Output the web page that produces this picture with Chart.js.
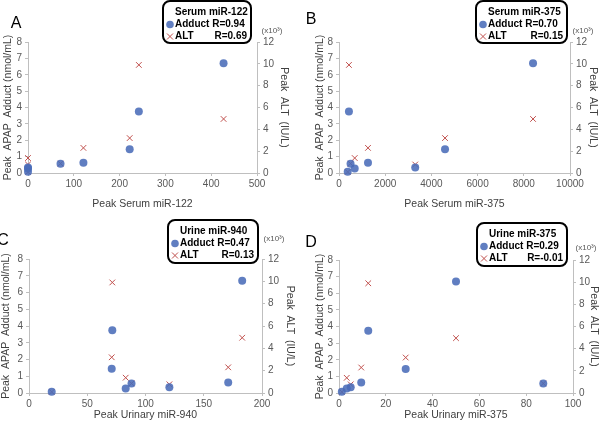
<!DOCTYPE html>
<html>
<head>
<meta charset="utf-8">
<script src="https://cdn.jsdelivr.net/npm/chart.js@4/dist/chart.umd.min.js"></script>
<style>
  html, body { margin: 0; padding: 0; background: #fff; }
  #wrap { position: relative; width: 600px; height: 421px; }
  .panel { position: absolute; width: 300px; }
</style>
</head>
<body>
<div id="wrap">
  <div class="panel" style="left:0;top:0;height:210px"><canvas id="chartA" width="300" height="210"></canvas></div>
  <div class="panel" style="left:300px;top:0;height:210px"><canvas id="chartB" width="300" height="210"></canvas></div>
  <div class="panel" style="left:0;top:210px;height:211px"><canvas id="chartC" width="300" height="211"></canvas></div>
  <div class="panel" style="left:300px;top:210px;height:211px"><canvas id="chartD" width="300" height="211"></canvas></div>
</div>
<script>
// Per patient values (same 8 patients in every panel)
const adduct = [6.7, 3.75, 1.45, 0.63, 0.27, 0.34, 0.57, 0.07];   // nmol/mL
const altK = [4.95, 9.9, 3.2, 2.3, 1.37, 0.78, 0.86, 0.1];       // IU/L x10^3

// miRNA levels, x axis of each panel
const serum122 = [427, 242, 222, 121, 0, 0, 71, 0];
const serum375 = [8400, 430, 4590, 1255, 680, 3300, 500, 376];
const urine940 = [183, 71.5, 71, 171, 83, 120.5, 88, 19.5];
const urine375 = [50, 12.5, 28.5, 9.5, 3.3, 5, 87.3, 1.2];

// Correlations shown in the legends
const rAdduct = ['0.94', '0.70', '0.47', '0.29'];
const rAlt = ['0.69', '0.15', '0.13', '-0.01'];

const leftTicks = [0, 1, 2, 3, 4, 5, 6, 7, 8];
const rightTicks = [0, 2, 4, 6, 8, 10, 12];

const BLUE = 'rgba(74,108,184,0.88)';
const RED = '#c0504d';
const AXIS = '#bfbfbf';
const TICK = '#595959';
const FONT = '"Liberation Sans", Arial, sans-serif';

// Letter, legend box and (x10^3) label drawn on top of each panel
const panelDecor = {
  id: 'panelDecor',
  afterDraw(chart, args, o) {
    const ctx = chart.ctx;
    ctx.save();
    ctx.fillStyle = '#000';
    ctx.textAlign = 'center';
    ctx.textBaseline = 'middle';
    ctx.font = '16px ' + FONT;
    ctx.fillText(o.letter, o.letterX, o.letterY);

    ctx.fillStyle = TICK;
    ctx.font = '8px ' + FONT;
    ctx.fillText('(x10\u00B3)', o.unitX, o.unitY);

    const [bx, by, bw, bh] = o.box;
    ctx.beginPath();
    ctx.roundRect(bx, by, bw, bh, 7);
    ctx.fillStyle = '#fff';
    ctx.fill();
    ctx.lineWidth = 2;
    ctx.strokeStyle = '#000';
    ctx.stroke();

    const mx = bx + 7, tx = bx + 12, rx = bx + bw - 4;
    const y1 = by + 11, y2 = by + 23.5, y3 = by + 35.5;
    ctx.font = 'bold 10px ' + FONT;
    ctx.fillStyle = '#000';
    ctx.textAlign = 'left';
    ctx.fillText(o.title, tx, y1);
    ctx.fillText('Adduct R=' + o.r1, tx, y2);
    ctx.fillText('ALT', tx, y3);
    ctx.textAlign = 'right';
    ctx.fillText('R=' + o.r2, rx, y3);

    ctx.beginPath();
    ctx.arc(mx, y2, 3.8, 0, Math.PI * 2);
    ctx.fillStyle = BLUE;
    ctx.fill();
    ctx.beginPath();
    ctx.moveTo(mx - 3, y3 - 3); ctx.lineTo(mx + 3, y3 + 3);
    ctx.moveTo(mx + 3, y3 - 3); ctx.lineTo(mx - 3, y3 + 3);
    ctx.lineWidth = 1;
    ctx.strokeStyle = RED;
    ctx.stroke();
    ctx.restore();
  }
};

function makePanel(id, xs, xMax, xStep, xTitle, lay, decor) {
  const H = document.getElementById(id).height;
  const tickFont = { family: FONT, size: 10 };
  const titleFont = { family: FONT, size: 10.5 };
  return new Chart(document.getElementById(id), {
    type: 'scatter',
    data: {
      datasets: [
        {
          label: 'Adduct',
          data: xs.map((x, i) => ({ x: x, y: adduct[i] })),
          yAxisID: 'y',
          pointStyle: 'circle',
          pointRadius: 4,
          backgroundColor: BLUE,
          borderWidth: 0,
          clip: false
        },
        {
          label: 'ALT',
          data: xs.map((x, i) => ({ x: x, y: altK[i] })),
          yAxisID: 'y1',
          pointStyle: 'crossRot',
          pointRadius: 4,
          borderColor: RED,
          borderWidth: 1,
          clip: false
        }
      ]
    },
    options: {
      responsive: false,
      animation: false,
      layout: { padding: { top: lay.top, left: 0, right: 0, bottom: 0 } },
      plugins: {
        legend: { display: false },
        tooltip: { enabled: false },
        panelDecor: decor
      },
      scales: {
        x: {
          type: 'linear', min: 0, max: xMax,
          ticks: { stepSize: xStep, color: TICK, font: tickFont, padding: 2, maxRotation: 0, callback: v => String(v) },
          grid: { drawOnChartArea: false, tickLength: 3, color: AXIS },
          border: { color: AXIS },
          title: { display: true, text: xTitle, color: '#404040', font: titleFont, padding: { top: lay.xt, bottom: 0 } },
          afterFit: s => { s.height = H - lay.bottom; }
        },
        y: {
          position: 'left', min: 0, max: 8,
          afterBuildTicks: s => { s.ticks = leftTicks.map(v => ({ value: v })); },
          ticks: { color: TICK, font: tickFont, padding: 3, callback: v => String(v) },
          grid: { drawOnChartArea: false, tickLength: 3, color: AXIS },
          border: { color: AXIS },
          title: { display: true, text: 'Peak  APAP  Adduct (nmol/mL)', color: '#404040', font: titleFont, padding: { top: lay.yt, bottom: 0 } },
          afterFit: s => { s.width = lay.left; }
        },
        y1: {
          position: 'right', min: 0, max: 12,
          afterBuildTicks: s => { s.ticks = rightTicks.map(v => ({ value: v })); },
          ticks: { color: TICK, font: tickFont, padding: 3, callback: v => String(v) },
          grid: { drawOnChartArea: false, tickLength: 3, color: AXIS },
          border: { color: AXIS },
          title: { display: true, text: 'Peak  ALT  (IU/L)', color: '#404040', font: titleFont, padding: { top: lay.y1t, bottom: 0 } },
          afterFit: s => { s.width = 300 - lay.right; }
        }
      }
    },
    plugins: [panelDecor]
  });
}

makePanel('chartA', serum122, 500, 100, 'Peak Serum miR-122',
  { left: 28, right: 257, top: 42, bottom: 173, yt: 1.7, y1t: 10, xt: 4.7 },
  { letter: 'A', letterX: 16, letterY: 24, unitX: 272, unitY: 31, box: [163, 1, 88, 42], title: 'Serum miR-122', r1: rAdduct[0], r2: rAlt[0] });

makePanel('chartB', serum375, 10000, 2000, 'Peak Serum miR-375',
  { left: 39, right: 270, top: 42, bottom: 173, yt: 14, y1t: 0.7, xt: 5.7 },
  { letter: 'B', letterX: 11, letterY: 20, unitX: 283, unitY: 31, box: [176, 1, 91, 42], title: 'Serum miR-375', r1: rAdduct[1], r2: rAlt[1] });

makePanel('chartC', urine940, 200, 50, 'Peak Urinary miR-940',
  { left: 29, right: 262, top: 49, bottom: 183, yt: 0.3, y1t: 3.7, xt: 1.7 },
  { letter: 'C', letterX: 3, letterY: 31, unitX: 274, unitY: 29, box: [168, 10, 90, 43], title: 'Urine miR-940', r1: rAdduct[2], r2: rAlt[2] });

makePanel('chartD', urine375, 100, 20, 'Peak Urinary miR-375',
  { left: 39, right: 273, top: 50, bottom: 183, yt: 13.7, y1t: 0, xt: 0.7 },
  { letter: 'D', letterX: 11, letterY: 33, unitX: 286, unitY: 38, box: [177, 13, 90, 43], title: 'Urine miR-375', r1: rAdduct[3], r2: rAlt[3] });
</script>
</body>
</html>
